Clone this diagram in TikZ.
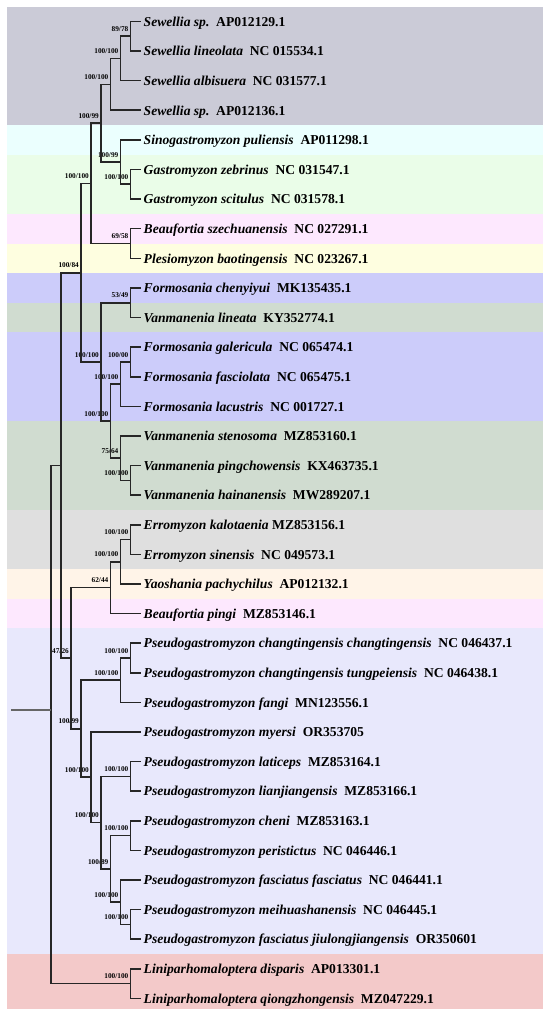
\documentclass[tikz,border=0pt]{standalone}
\usepackage{fontspec}
\setmainfont{Liberation Serif}
\usepackage{tikz}
\definecolor{sewgray}{RGB}{203, 203, 215}
\definecolor{sinocyan}{RGB}{235, 255, 254}
\definecolor{gastgreen}{RGB}{234, 253, 232}
\definecolor{beaupink}{RGB}{253, 232, 254}
\definecolor{plesyellow}{RGB}{254, 254, 224}
\definecolor{formblue}{RGB}{204, 204, 250}
\definecolor{vangreen}{RGB}{208, 220, 208}
\definecolor{errgray}{RGB}{223, 223, 223}
\definecolor{yaopeach}{RGB}{255, 244, 232}
\definecolor{pseulav}{RGB}{232, 232, 252}
\definecolor{linired}{RGB}{243, 201, 201}

\begin{document}
\begin{tikzpicture}[x=1pt, y=-1pt,
br/.style={line width=1.6pt, color=black!85},
leaf/.style={anchor=west, inner xsep=2.5pt, inner ysep=0pt, text height=9.5pt, text depth=0pt, font=\fontsize{13.6}{14}\selectfont\bfseries},
bs/.style={anchor=south east, inner sep=0pt, xshift=-2pt, yshift=4.5pt, font=\fontsize{7.3}{7.3}\selectfont\bfseries}
]
  \useasboundingbox (0,0) rectangle (550,1016);

  % colour bands behind the clades
  \foreach \ya/\yb/\cl in {6.7/125.1/sewgray, 125.1/154.7/sinocyan, 154.7/213.9/gastgreen,
    213.9/243.5/beaupink, 243.5/273.1/plesyellow, 273.1/302.7/formblue, 302.7/332.3/vangreen,
    332.3/421.1/formblue, 421.1/509.9/vangreen, 509.9/569.1/errgray, 569.1/598.7/yaopeach,
    598.7/628.3/beaupink, 628.3/953.9/pseulav, 953.9/1009/linired}
    \fill[\cl] (7,\ya) rectangle (543,\yb);

  % tips
  \foreach \nm/\ac [count=\i] in {{Sewellia sp.}/{AP012129.1}, {Sewellia lineolata}/{NC 015534.1},
    {Sewellia albisuera}/{NC 031577.1}, {Sewellia sp.}/{AP012136.1},
    {Sinogastromyzon puliensis}/{AP011298.1}, {Gastromyzon zebrinus}/{NC 031547.1},
    {Gastromyzon scitulus}/{NC 031578.1}, {Beaufortia szechuanensis}/{NC 027291.1},
    {Plesiomyzon baotingensis}/{NC 023267.1}, {Formosania chenyiyui}/{MK135435.1},
    {Vanmanenia lineata}/{KY352774.1}, {Formosania galericula}/{NC 065474.1},
    {Formosania fasciolata}/{NC 065475.1}, {Formosania lacustris}/{NC 001727.1},
    {Vanmanenia stenosoma}/{MZ853160.1}, {Vanmanenia pingchowensis}/{KX463735.1},
    {Vanmanenia hainanensis}/{MW289207.1}, {Erromyzon kalotaenia}/{MZ853156.1},
    {Erromyzon sinensis}/{NC 049573.1}, {Yaoshania pachychilus}/{AP012132.1},
    {Beaufortia pingi}/{MZ853146.1},
    {Pseudogastromyzon changtingensis changtingensis}/{NC 046437.1},
    {Pseudogastromyzon changtingensis tungpeiensis}/{NC 046438.1},
    {Pseudogastromyzon fangi}/{MN123556.1}, {Pseudogastromyzon myersi}/{OR353705},
    {Pseudogastromyzon laticeps}/{MZ853164.1}, {Pseudogastromyzon lianjiangensis}/{MZ853166.1},
    {Pseudogastromyzon cheni}/{MZ853163.1}, {Pseudogastromyzon peristictus}/{NC 046446.1},
    {Pseudogastromyzon fasciatus fasciatus}/{NC 046441.1},
    {Pseudogastromyzon meihuashanensis}/{NC 046445.1},
    {Pseudogastromyzon fasciatus jiulongjiangensis}/{OR350601},
    {Liniparhomaloptera disparis}/{AP013301.1}, {Liniparhomaloptera qiongzhongensis}/{MZ047229.1}}
    \node[leaf] (l\i) at (141, {21.5+29.6*(\i-1)}) {\textit{\nm}\ifnum\i=18\ \else\ \ \fi\ac};

  % internal nodes
  \coordinate (A) at (130.5,36.3);
  \coordinate (B) at (120.5,58.5);
  \coordinate (C) at (110.5,84.4);
  \coordinate (F) at (130.5,184.3);
  \coordinate (E) at (120.5,162.1);
  \coordinate (D) at (101,123.3);
  \coordinate (G) at (130.5,243.5);
  \coordinate (H) at (91,183.4);
  \coordinate (Q) at (130.5,302.7);
  \coordinate (U) at (130.5,361.9);
  \coordinate (S) at (120.5,384.1);
  \coordinate (V) at (130.5,480.3);
  \coordinate (T) at (120.5,458.1);
  \coordinate (R) at (110.5,421.1);
  \coordinate (J) at (101,361.9);
  \coordinate (I) at (81,272.7);
  \coordinate (W) at (130.5,539.5);
  \coordinate (O) at (120.5,561.7);
  \coordinate (N) at (110.5,587.6);
  \coordinate (AA) at (130.5,657.9);
  \coordinate (Y) at (120.5,680.1);
  \coordinate (CC) at (130.5,776.3);
  \coordinate (EE) at (130.5,835.5);
  \coordinate (GG) at (130.5,924.3);
  \coordinate (FF) at (120.5,902.1);
  \coordinate (DD) at (110.5,868.8);
  \coordinate (BB) at (101,822.6);
  \coordinate (Z) at (91,777.2);
  \coordinate (P) at (81,728.7);
  \coordinate (M) at (71,658.1);
  \coordinate (X) at (61,465.4);
  \coordinate (L) at (130.5,983.5);
  \coordinate (root) at (51,710);
  \coordinate (base) at (11,710);

  % support values
  \node[bs] (bA) at (A) {89/78};
  \node[bs] (bB) at (B) {100/100};
  \node[bs] (bC) at (C) {100/100};
  \node[bs] (bD) at (D) {100/99};
  \node[bs] (bE) at (E) {100/99};
  \node[bs] (bF) at (F) {100/100};
  \node[bs] (bG) at (G) {69/58};
  \node[bs] (bH) at (H) {100/100};
  \node[bs] (bI) at (I) {100/84};
  \node[bs] (bQ) at (Q) {53/49};
  \node[bs] (bJ) at (J) {100/100};
  \node[bs] (bU) at (U) {100/00};
  \node[bs] (bS) at (S) {100/100};
  \node[bs] (bR) at (R) {100/100};
  \node[bs] (bT) at (T) {75/64};
  \node[bs] (bV) at (V) {100/100};
  \node[bs] (bW) at (W) {100/100};
  \node[bs] (bO) at (O) {100/100};
  \node[bs] (bN) at (N) {62/44};
  \node[bs] (bM) at (M) {47/26};
  \node[bs] (bAA) at (AA) {100/100};
  \node[bs] (bY) at (Y) {100/100};
  \node[bs] (bP) at (P) {100/99};
  \node[bs] (bZ) at (Z) {100/100};
  \node[bs] (bCC) at (CC) {100/100};
  \node[bs] (bBB) at (BB) {100/100};
  \node[bs] (bEE) at (EE) {100/100};
  \node[bs] (bDD) at (DD) {100/89};
  \node[bs] (bFF) at (FF) {100/100};
  \node[bs] (bGG) at (GG) {100/100};
  \node[bs] (bL) at (L) {100/100};

  % branches
  \draw[br] (A) |- (l1.west) (A) |- (l2.west);
  \draw[br] (B) |- (A) (B) |- (l3.west);
  \draw[br] (C) |- (B) (C) |- (l4.west);
  \draw[br] (F) |- (l6.west) (F) |- (l7.west);
  \draw[br] (E) |- (l5.west) (E) |- (F);
  \draw[br] (D) |- (C) (D) |- (E);
  \draw[br] (G) |- (l8.west) (G) |- (l9.west);
  \draw[br] (H) |- (D) (H) |- (G);
  \draw[br] (Q) |- (l10.west) (Q) |- (l11.west);
  \draw[br] (U) |- (l12.west) (U) |- (l13.west);
  \draw[br] (S) |- (U) (S) |- (l14.west);
  \draw[br] (V) |- (l16.west) (V) |- (l17.west);
  \draw[br] (T) |- (l15.west) (T) |- (V);
  \draw[br] (R) |- (S) (R) |- (T);
  \draw[br] (J) |- (Q) (J) |- (R);
  \draw[br] (I) |- (H) (I) |- (J);
  \draw[br] (W) |- (l18.west) (W) |- (l19.west);
  \draw[br] (O) |- (W) (O) |- (l20.west);
  \draw[br] (N) |- (O) (N) |- (l21.west);
  \draw[br] (AA) |- (l22.west) (AA) |- (l23.west);
  \draw[br] (Y) |- (AA) (Y) |- (l24.west);
  \draw[br] (CC) |- (l26.west) (CC) |- (l27.west);
  \draw[br] (EE) |- (l28.west) (EE) |- (l29.west);
  \draw[br] (GG) |- (l31.west) (GG) |- (l32.west);
  \draw[br] (FF) |- (l30.west) (FF) |- (GG);
  \draw[br] (DD) |- (EE) (DD) |- (FF);
  \draw[br] (BB) |- (CC) (BB) |- (DD);
  \draw[br] (Z) |- (l25.west) (Z) |- (BB);
  \draw[br] (P) |- (Y) (P) |- (Z);
  \draw[br] (M) |- (N) (M) |- (P);
  \draw[br] (X) |- (I) (X) |- (M);
  \draw[br] (L) |- (l33.west) (L) |- (l34.west);
  \draw[br] (root) |- (X) (root) |- (L);
  \draw[br, color=black!60] (base) -- (root);
\end{tikzpicture}
\end{document}
